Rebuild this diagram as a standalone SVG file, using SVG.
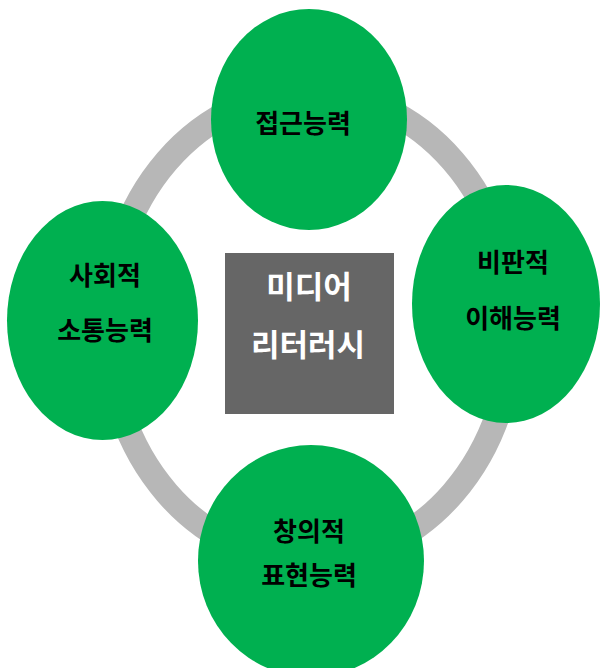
<svg xmlns="http://www.w3.org/2000/svg" width="601" height="668" viewBox="0 0 601 668">
<style>
.node{fill:#00B050;}
.lbl{font-family:"Noto Sans CJK KR","Noto Sans",sans-serif;font-weight:bold;font-size:26px;fill:#000;text-anchor:middle;}
.ctr{font-family:"Noto Sans CJK KR","Noto Sans",sans-serif;font-weight:bold;font-size:31px;fill:#fff;text-anchor:middle;}
</style>
<rect width="601" height="668" fill="#fff"/>
<g id="connectors">
<ellipse cx="310" cy="327" rx="202.5" ry="234.5" fill="none" stroke="#B7B7B7" stroke-width="25"/>
</g>
<g id="center">
<rect x="225" y="253" width="169" height="161" fill="#666666"/>
<text class="ctr" x="309" y="298">미디어</text>
<text class="ctr" x="308" y="356">리터러시</text>
</g>
<g id="access">
<ellipse class="node" cx="309" cy="119.5" rx="98" ry="110.5"/>
<text class="lbl" x="303" y="133">접근능력</text>
</g>
<g id="social">
<ellipse class="node" cx="102.5" cy="320.5" rx="95.5" ry="119.5"/>
<text class="lbl" x="105" y="285">사회적</text>
<text class="lbl" x="105" y="340">소통능력</text>
</g>
<g id="critical">
<ellipse class="node" cx="506" cy="304" rx="94" ry="119"/>
<text class="lbl" x="513" y="272">비판적</text>
<text class="lbl" x="513" y="328">이해능력</text>
</g>
<g id="creative">
<ellipse class="node" cx="311" cy="561" rx="113" ry="116"/>
<text class="lbl" x="309" y="541">창의적</text>
<text class="lbl" x="309" y="585">표현능력</text>
</g>
</svg>
